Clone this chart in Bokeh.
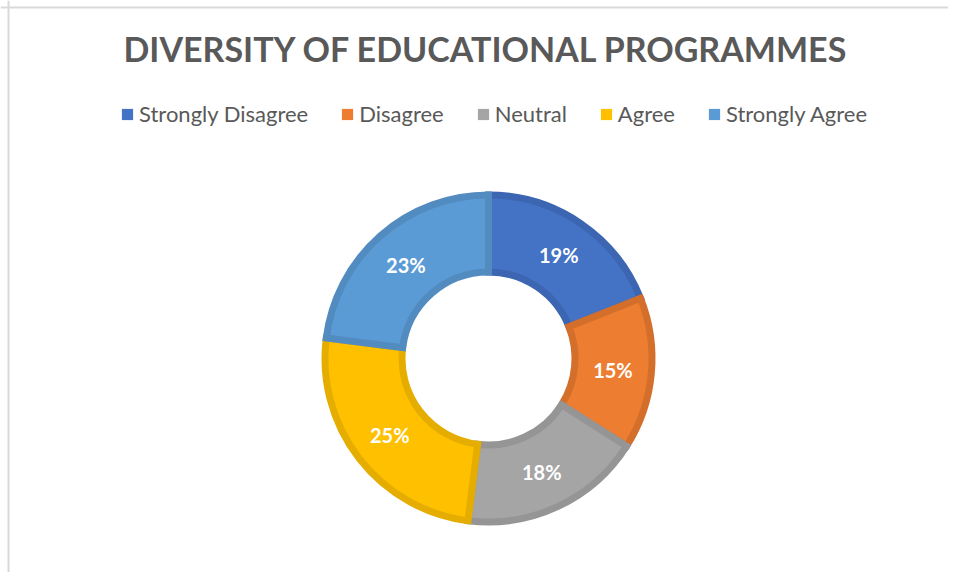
import math
from bokeh.plotting import figure
from bokeh.models import Range1d, Legend, LegendItem, Label, Span, ColumnDataSource
from bokeh.core.properties import value
from bokeh.embed import file_html
from bokeh.resources import INLINE

title_text = "DIVERSITY OF EDUCATIONAL PROGRAMMES"
categories = ["Strongly Disagree", "Disagree", "Neutral", "Agree", "Strongly Agree"]
percents = [19, 15, 18, 25, 23]
fill_colors = ["#4472C4", "#ED7D31", "#A5A5A5", "#FFC000", "#5B9BD5"]
edge_colors = ["#3C66B1", "#D36F2B", "#959595", "#E5AD00", "#528BC0"]

W, H = 948, 572
p = figure(width=W, height=H, output_backend="svg", toolbar_location=None,
           x_range=Range1d(0, W), y_range=Range1d(0, H), min_border=0)
p.axis.visible = False
p.grid.visible = False
p.outline_line_color = None
p.background_fill_color = "white"
p.border_fill_color = "white"

# chart-area border (left/top visible in reference)
p.add_layout(Span(location=8, dimension="height", line_color="#d9d9d9", line_width=2))
p.add_layout(Span(location=H - 7, dimension="width", line_color="#d9d9d9", line_width=2))

cx, cy = 488, 214
r_out, r_in, edge = 167, 83, 7

total = float(sum(percents))
starts, ends, mids = [], [], []
cum = 0.0
for v in percents:
    a0 = math.pi / 2 - 2 * math.pi * (cum + v) / total
    a1 = math.pi / 2 - 2 * math.pi * cum / total
    starts.append(a0)
    ends.append(a1)
    mids.append((a0 + a1) / 2)
    cum += v

items = []
for i, cat in enumerate(categories):
    src = ColumnDataSource(dict(x=[cx], y=[cy], s=[starts[i]], e=[ends[i]]))
    p.annular_wedge(x="x", y="y", inner_radius=r_in + edge / 2, outer_radius=r_out - edge / 2,
                    inner_radius_units="screen", outer_radius_units="screen",
                    start_angle="s", end_angle="e", source=src,
                    fill_color=fill_colors[i], line_color=edge_colors[i],
                    line_width=edge, line_join="miter")
    leg = p.rect(x=[-100], y=[-100], width=1, height=1, fill_color=fill_colors[i], line_color=None)
    items.append(LegendItem(label=cat, renderers=[leg]))

r_lab = (r_out + r_in) / 2
lab = ColumnDataSource(dict(
    x=[cx + r_lab * math.cos(m) for m in mids],
    y=[cy + r_lab * math.sin(m) for m in mids],
    t=["%d%%" % v for v in percents]))
p.text(x="x", y="y", text="t", source=lab, text_color="white",
       text_font=value("Lato"), text_font_style="bold", text_font_size="20px",
       text_align="center", text_baseline="middle")

legend = Legend(items=items, location=(120, 445), orientation="horizontal",
                glyph_width=14, glyph_height=14, label_standoff=5, spacing=32,
                padding=0, margin=0, border_line_color=None, background_fill_alpha=0,
                label_text_font="Lato", label_text_font_size="22px", label_text_color="#595959")
p.add_layout(legend)

p.add_layout(Label(x=486, y=524, x_units="screen", y_units="screen", text=title_text,
                   text_align="center", text_baseline="middle", text_font="Lato",
                   text_font_style="bold", text_font_size="34px", text_color="#595959"))

open("out.html", "w").write(file_html(p, INLINE))
